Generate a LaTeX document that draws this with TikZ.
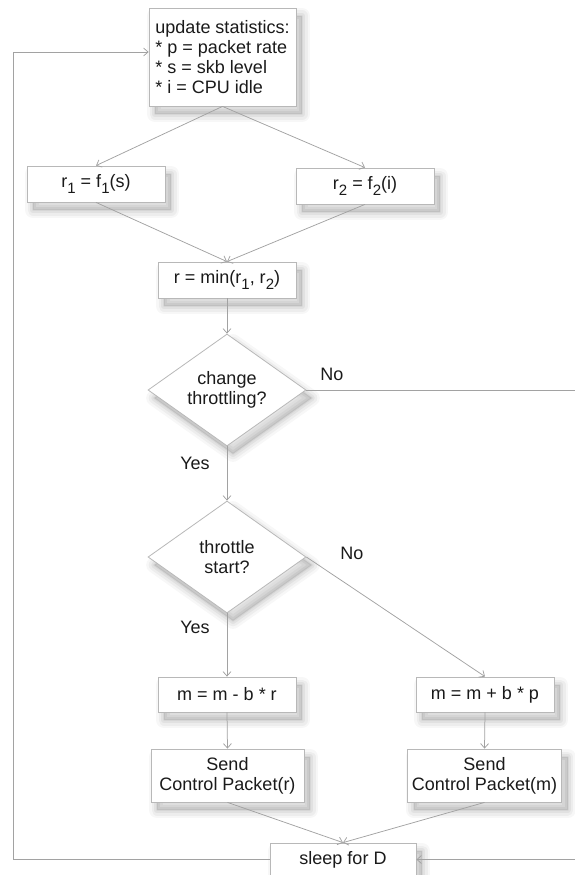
\documentclass[tikz,border=0pt]{standalone}
\usepackage{fontspec}
\setmainfont{Liberation Sans}
\usetikzlibrary{shapes.geometric,arrows.meta,shadows}

\definecolor{edgegray}{HTML}{A2A2A2}
\definecolor{boxgray}{HTML}{B8B8B8}
\definecolor{txtcol}{HTML}{1A1A1A}

\newcommand{\sbs}[1]{\raisebox{-0.34em}{\fontsize{15}{15}\selectfont #1}}

\tikzset{
  every node/.style={text=txtcol, font=\fontsize{18}{20}\selectfont},
  shade/.style={
    general shadow={shadow xshift=6pt, shadow yshift=-8pt, draw=black, line join=round, line width=16pt, draw opacity=0.03},
    general shadow={shadow xshift=6pt, shadow yshift=-8pt, draw=black, line join=round, line width=11pt, draw opacity=0.04},
    general shadow={shadow xshift=6pt, shadow yshift=-8pt, draw=black, line join=round, line width=6pt, draw opacity=0.05},
    general shadow={shadow xshift=6pt, shadow yshift=-8pt, draw=black, line join=round, line width=2pt, draw opacity=0.05},
    general shadow={shadow xshift=6pt, shadow yshift=-8pt, fill=black, fill opacity=0.10}},
  box/.style={draw=boxgray, fill=white, line width=0.8pt, inner sep=0pt, shade, align=center},
  decision/.style={shape=diamond, aspect=1.41, draw=boxgray, fill=white, line width=0.8pt, inner sep=0pt, shade, align=center, minimum width=158pt, minimum height=112pt},
  flow/.style={draw=edgegray, line width=0.75pt, -{Straight Barb[length=4.5pt,width=8pt]}},
  lbl/.style={inner sep=0pt}
}

\begin{document}
\begin{tikzpicture}[x=1pt, y=-1pt]
\useasboundingbox (0,0) rectangle (575,875);

\node[box, minimum width=147pt, minimum height=98pt, align=left] (top) at (222.5,57)
  {update statistics:\\* p = packet rate\\* s = skb level\\* i = CPU idle};

\node[box, minimum width=138pt, minimum height=36pt] (r1) at (96,184) {r\sbs{1} = f\sbs{1}(s)};
\node[box, minimum width=138pt, minimum height=36pt] (r2) at (365,186) {r\sbs{2} = f\sbs{2}(i)};
\node[box, minimum width=138pt, minimum height=36pt] (r) at (227,280) {r = min(r\sbs{1}, r\sbs{2})};

\node[decision] (d1) at (227,390) {change\\throttling?};
\node[decision] (d2) at (227,557) {throttle\\start?};

\node[box, minimum width=138pt, minimum height=35pt] (m1) at (227,694.5) {m = m - b * r};
\node[box, minimum width=138pt, minimum height=35pt] (m2) at (485,694.5) {m = m + b * p};

\node[box, minimum width=153pt, minimum height=53pt] (s1) at (227.5,775.5) {Send\\Control Packet(r)};
\node[box, minimum width=154pt, minimum height=53pt] (s2) at (484.5,775.5) {Send\\Control Packet(m)};

\node[box, minimum width=146pt, minimum height=33pt] (sleep) at (343,859.5) {sleep for D};

\node[lbl] (no1) at (332,374) {No};
\node[lbl] (yes1) at (195,463) {Yes};
\node[lbl] (no2) at (352,553) {No};
\node[lbl] (yes2) at (195,627) {Yes};

\coordinate (LT) at (13,52);
\coordinate (RT) at (576,390);

\draw[flow] (top.south) -- (r1.north);
\draw[flow] (top.south) -- (r2.north);
\draw[flow] (r1.south) -- (r.north);
\draw[flow] (r2.south) -- (r.north);
\draw[flow] (r.south) -- (d1.north);
\draw[flow] (d1.south) -- (d2.north);
\draw[flow] (d2.south) -- (m1.north);
\draw[flow] (d2.east) -- (m2.north);
\draw[flow] (m1.south) -- (s1.north);
\draw[flow] (m2.south) -- (s2.north);
\draw[flow] (s1.south) -- (sleep.north);
\draw[flow] (s2.south) -- (sleep.north);
\draw[flow] (d1.east) -- (RT) |- (sleep.east);
\draw[flow] (sleep.west) -| (LT) -- ([yshift=5pt]top.west);
\end{tikzpicture}
\end{document}
